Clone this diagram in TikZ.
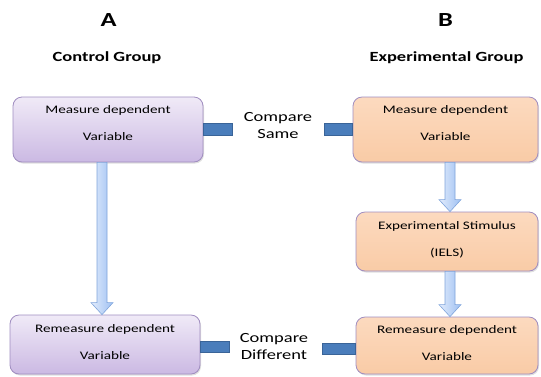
\documentclass[tikz,border=0pt]{standalone}
\usepackage{fontspec}
\setmainfont{Carlito}[FakeStretch=1.32]
\usetikzlibrary{calc,shadows}

\definecolor{lilacTop}{HTML}{F0EAF7}
\definecolor{lilacBot}{HTML}{CBB9E3}
\definecolor{peachTop}{HTML}{FCDABF}
\definecolor{peachBot}{HTML}{F9CBA6}
\definecolor{boxEdge}{HTML}{A08DC0}
\definecolor{arrowLight}{HTML}{E2ECFC}
\definecolor{arrowDark}{HTML}{9EC0F2}
\definecolor{arrowEdge}{HTML}{7FA4DB}
\definecolor{linkFill}{HTML}{4A7DBB}
\definecolor{linkEdge}{HTML}{3A6498}

% shaded block arrow pointing down, from #1 to #2
\newcommand\fatarrow[2]{%
  \shadedraw[left color=arrowLight, right color=arrowDark, draw=arrowEdge, line width=0.6pt]
    ($(#1)+(-5,0)$) -- ($(#2)+(-5,-12)$) -- ($(#2)+(-11,-12)$) -- (#2)
    -- ($(#2)+(11,-12)$) -- ($(#2)+(5,-12)$) -- ($(#1)+(5,0)$) -- cycle;}

\begin{document}
\begin{tikzpicture}[x=1pt, y=-1pt,
    groupbox/.style={draw=boxEdge, line width=0.8pt, rounded corners=9pt,
      drop shadow={opacity=0.25, shadow xshift=1pt, shadow yshift=-1.5pt}},
    ctrlbox/.style={groupbox, top color=lilacTop, bottom color=lilacBot},
    expbox/.style={groupbox, top color=peachTop, bottom color=peachBot},
    btext/.style={anchor=base, font=\fontsize{11.5}{13}\selectfont},
    head/.style={font=\bfseries\fontsize{20}{24}\selectfont},
    grouptitle/.style={font=\bfseries\fontsize{14}{16}\selectfont},
    cmp/.style={align=center, font=\fontsize{14}{17}\selectfont},
    link/.style={fill=linkFill, draw=linkEdge, line width=0.8pt}]
    \useasboundingbox (0,0) rectangle (541,376);

    \node[head] (hA) at (108.5,20) {A};
    \node[head] (hB) at (445.5,20) {B};
    \node[grouptitle] (tA) at (107,58) {Control Group};
    \node[grouptitle] (tB) at (446.5,58) {Experimental Group};

    % control group
    \node[ctrlbox, minimum width=190, minimum height=65] (a1) at (108,129.5) {};
    \node[btext] (a1t) at ([yshift=-16.5]a1.north) {Measure dependent};
    \node[btext] (a1v) at ([yshift=-44]a1.north) {Variable};
    \node[ctrlbox, minimum width=190, minimum height=59] (a2) at (105,344.5) {};
    \node[btext] (a2t) at ([yshift=-18]a2.north) {Remeasure dependent};
    \node[btext] (a2v) at ([yshift=-45]a2.north) {Variable};

    % experimental group
    \node[expbox, minimum width=185, minimum height=65] (b1) at (445.5,129.5) {};
    \node[btext] (b1t) at ([yshift=-16.5]b1.north) {Measure dependent};
    \node[btext] (b1v) at ([yshift=-44]b1.north) {Variable};
    \node[expbox, minimum width=182, minimum height=59] (b2) at (447,241.5) {};
    \node[btext] (b2t) at ([yshift=-17.5]b2.north) {Experimental Stimulus};
    \node[btext] (b2v) at ([yshift=-44.5]b2.north) {(IELS)};
    \node[expbox, minimum width=182, minimum height=57] (b3) at (447,345.5) {};
    \node[btext] (b3t) at ([yshift=-17]b3.north) {Remeasure dependent};
    \node[btext] (b3v) at ([yshift=-44]b3.north) {Variable};

    \coordinate (ax) at (102,0);
    \coordinate (bx) at (450,0);
    \fatarrow{ax |- a1.south}{ax |- a2.north}
    \fatarrow{bx |- b1.south}{bx |- b2.north}
    \fatarrow{bx |- b2.south}{bx |- b3.north}

    % comparisons
    \node[cmp] (same) at (278,125.5) {Compare\\Same};
    \node[cmp] (diff) at (274,346) {Compare\\Different};
    \draw[link] ([yshift=6]a1.east) rectangle ++(29,12);
    \draw[link] ([yshift=6]b1.west) rectangle ++(-28,12);
    \draw[link] ([yshift=3]a2.east) rectangle ++(29,11);
    \draw[link] ([yshift=2]b3.west) rectangle ++(-33,11);
\end{tikzpicture}
\end{document}
